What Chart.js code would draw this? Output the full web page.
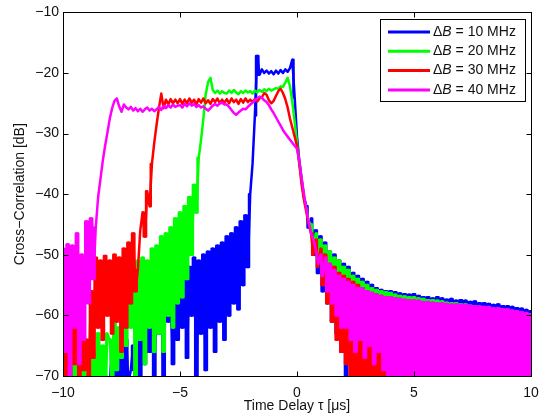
<!DOCTYPE html>
<html>
<head>
<meta charset="utf-8">
<title>Cross-correlation vs time delay</title>
<script src="https://cdn.jsdelivr.net/npm/chart.js@4.4.1/dist/chart.umd.min.js"></script>
<style>
  html, body { margin: 0; padding: 0; background: #fff; }
  canvas { display: block; }
</style>
</head>
<body>
<canvas id="xcorr" width="549" height="418"></canvas>
<script>
// samples run from -10 us to +10 us, one every 0.1 us
const tauStart = -10;
const tauStep = 0.1;

const bandwidths = [10, 20, 30, 40];   // MHz
const colors = ['#0000ff', '#00ff00', '#ff0000', '#ff00ff'];

const xTicks = [-10, -5, 0, 5, 10];
const yTicks = [-70, -60, -50, -40, -30, -20, -10];

// cross-correlation in dB, one row per microsecond
const corr10 = [
    -73, -70, -75, -71, -74, -72, -76, -70, -74, -72,
    -72, -75, -70, -74, -71, -75, -69, -73, -70, -74,
    -71, -66, -73, -69, -74, -67, -72, -64, -71, -69,
    -65, -71, -62, -70, -59, -68, -56, -66, -55, -70,
    -54, -63, -56, -70, -54, -61, -57, -68, -53, -64,
    -53, -62, -51, -67, -52, -60, -50.5, -70, -51, -63,
    -50, -69, -49.5, -62, -49, -66, -48.5, -61, -48, -64,
    -47, -60, -46.5, -58, -45.5, -59, -44.5, -55, -43.5, -52,
    -40, -35, -27, -17.2, -20.3, -19.4, -20, -19.6, -20.1, -19.7,
    -20.2, -19.6, -20.1, -19.5, -20, -19.4, -19.8, -19.2, -17.8, -24,
    -30.5, -34.5, -37.5, -40.5, -42, -45.5, -44, -50, -46, -53,
    -47, -56, -48, -58, -49.5, -61, -50, -63, -51, -66,
    -51.5, -70, -52, -68, -53, -71, -53.5, -70, -54, -73,
    -54.5, -72, -55, -70, -55.5, -74, -55.8, -71, -56, -75,
    -56, -74, -56.2, -76, -56.4, -74, -56.5, -76, -56.6, -75,
    -56.5, -76, -56.8, -75, -57, -76, -57, -75, -57.2, -76,
    -57, -75, -57.2, -76, -57.4, -75, -57.3, -76, -57.6, -75,
    -57.5, -76, -57.6, -75, -57.8, -76, -57.7, -75, -58, -76,
    -58, -75, -58.1, -76, -58.3, -75, -58.2, -76, -58.5, -75,
    -58.5, -76, -58.6, -75, -58.8, -76, -58.9, -75, -59.1, -76, -59.3
];

const corr20 = [
    -72, -68, -74, -66, -71, -64, -73, -69, -75, -67,
    -72, -70, -74, -66, -71, -63, -70, -65, -73, -63,
    -64, -71, -61, -69, -62, -67, -58, -65, -52, -62,
    -51.5, -70, -51, -64, -50.5, -68, -51, -62, -49, -66,
    -48.5, -63, -47, -66, -46.5, -60, -45.5, -62, -44, -58,
    -43, -57, -42, -54, -40.5, -50, -38.5, -43, -34, -31,
    -27.5, -23.5, -21.5, -20.8, -22.8, -23.3, -22.9, -23.4, -23, -23.3,
    -23.4, -22.9, -23.3, -22.8, -23.2, -23.5, -23, -23.3, -22.9, -23.2,
    -23, -23.4, -22.9, -23.2, -22.8, -23.1, -22.7, -23, -22.6, -22.9,
    -22.7, -22.5, -22.6, -22.2, -22.3, -21.6, -20.8, -22.2, -24.8, -28,
    -31.5, -35, -38, -40.5, -42.5, -44.5, -45, -49, -46.5, -51,
    -47.5, -54, -48.5, -56, -49.5, -59, -50.5, -61, -51, -63,
    -52, -65, -52.5, -68, -53.5, -66, -54, -70, -54.5, -72,
    -55, -71, -55.5, -73, -55.8, -70, -56, -74, -56.2, -72,
    -56.3, -75, -56.6, -74, -56.8, -76, -56.9, -74, -57, -76,
    -57, -75, -57.2, -76, -57.3, -75, -57.5, -76, -57.5, -75,
    -57.6, -76, -57.7, -75, -57.9, -76, -58, -75, -58, -76,
    -58.2, -75, -58.2, -76, -58.4, -75, -58.5, -76, -58.6, -75,
    -58.7, -76, -58.8, -75, -59, -76, -59, -75, -59.2, -76,
    -59.3, -75, -59.4, -76, -59.5, -75, -59.6, -76, -59.8, -75, -60
];

const corr30 = [
    -62, -70, -66, -72, -60, -68, -57, -71, -63, -69,
    -64, -70, -56, -67, -50.5, -62, -51, -64, -50.2, -60,
    -51, -63, -50, -61, -50.5, -66, -49, -62, -48, -58,
    -46.5, -56, -52.5, -46, -43, -47, -39.5, -42, -35, -31.5,
    -28.5, -25.8, -23.4, -25.8, -24.4, -25.2, -24.3, -25, -24.4, -25,
    -24.3, -25.1, -24.4, -25, -24.2, -24.9, -24.4, -25.2, -24.3, -24.9,
    -24.2, -25, -24.5, -25.1, -24.3, -24.8, -24.2, -25, -24.4, -24.9,
    -24.3, -25, -24.2, -24.8, -24.4, -25.1, -24.3, -24.9, -24.2, -24.8,
    -24.4, -24.8, -24.3, -24.7, -24.2, -24, -23.3, -23.6, -24.5, -25,
    -24.6, -23.8, -23, -22.6, -23.3, -24.3, -25.7, -27.5, -29, -30.5,
    -32, -35, -38.5, -41, -43, -45, -46.5, -50, -47.5, -52,
    -49, -55, -50, -58, -51.5, -61, -52, -64, -53, -66,
    -53.5, -68, -54, -70, -54.5, -72, -55, -70, -55.5, -73,
    -56, -72, -56.3, -74, -56.6, -75, -56.8, -76, -57, -75,
    -57, -76, -57.2, -75, -57.3, -76, -57.5, -75, -57.6, -76,
    -57.6, -75, -57.8, -76, -58, -75, -58, -76, -58.2, -75,
    -58.2, -76, -58.4, -75, -58.5, -76, -58.6, -75, -58.8, -76,
    -58.8, -75, -59, -76, -59, -75, -59.2, -76, -59.3, -75,
    -59.4, -76, -59.8, -75, -60.4, -76, -60.2, -75, -59.8, -76,
    -59.6, -75, -59.8, -76, -59.9, -75, -60, -76, -60.2, -75, -60.4
];

const corr40 = [
    -49, -66, -48.3, -70, -48.5, -62, -46.5, -68, -50, -64,
    -44.5, -58, -44, -54, -45.5, -40.5, -37.5, -34.5, -32, -29.8,
    -27.5, -25.8, -24.6, -24.2, -25.5, -26.4, -25.2, -25.7, -26, -25.6,
    -26.2, -25.8, -26.3, -25.9, -26.4, -26, -25.7, -26.2, -25.9, -26.3,
    -26, -25.6, -26.1, -25.4, -25.8, -25.3, -25.7, -25.2, -25.6, -25.4,
    -25.3, -25.7, -25.1, -25.5, -25, -25.4, -25.1, -25.6, -25.3, -25.7,
    -25.5, -25.9, -26.2, -25.8, -25.4, -25.1, -25.4, -25, -24.9, -25.2,
    -25.2, -25.6, -26.1, -26.6, -26.9, -26.5, -26.2, -25.9, -26, -25.6,
    -25.2, -24.9, -24.5, -24.2, -23.9, -24.1, -24.5, -24.8, -25.3, -26,
    -26.6, -27.3, -28, -28.7, -29.4, -30, -30.5, -31, -31.5, -32,
    -32.5, -34.5, -37.5, -40, -42.5, -44.5, -46.5, -47.5, -49, -51.5,
    -50, -53.5, -50.5, -56, -51.5, -58, -52.5, -60, -53.5, -62,
    -54, -62, -54.5, -64, -55, -66, -55.5, -64, -55.5, -67,
    -56, -65, -56.3, -68, -56.6, -66, -56.8, -69, -57, -76,
    -57, -76, -57.2, -75, -57.3, -76, -57.4, -75, -57.5, -76,
    -57.5, -75, -57.6, -76, -57.8, -75, -57.8, -76, -57.9, -75,
    -58, -76, -58, -75, -58.1, -76, -58.2, -75, -58.2, -76,
    -58.3, -75, -58.3, -76, -58.4, -75, -58.5, -76, -58.5, -75,
    -58.6, -76, -58.6, -75, -58.8, -76, -58.8, -75, -59, -76,
    -59, -75, -59.2, -76, -59.3, -75, -59.5, -76, -59.6, -75, -59.8
];

const series = [corr10, corr20, corr30, corr40];

const FONT = '"Liberation Sans", Arial, Helvetica, sans-serif';
const INK = '#111';
const CLEAR = 'rgba(0,0,0,0)';

let toPoints = (vals) => vals.map((v, i) => ({ x: +(tauStart + i * tauStep).toFixed(1), y: v }));

let minus = (v) => String(v).replace('-', '\u2212');

// a segment belongs to the noise floor when the curve flips direction
// around it with a jump of more than a few dB
let isNoisy = (vals, i) => {
    const d0 = vals[i] - vals[i - 1];
    const d1 = vals[i + 1] - vals[i];
    const d2 = vals[i + 2] - vals[i + 1];
    return Math.abs(d1) > 3 && (d0 * d1 < 0 || d1 * d2 < 0);
};

// box round the plot with inward ticks on all four sides
const frame = {
    id: 'frame',
    afterDatasetsDraw(chart) {
        const {ctx, chartArea: a, scales: {x, y}} = chart;
        const L = Math.round(a.left) + 0.5, R = Math.round(a.right) + 0.5;
        const T = Math.round(a.top) + 0.5, B = Math.round(a.bottom) + 0.5;
        const len = 5;
        ctx.save();
        ctx.strokeStyle = '#000';
        ctx.lineWidth = 1;
        ctx.strokeRect(L, T, R - L, B - T);
        ctx.beginPath();
        xTicks.forEach((t) => {
            const px = Math.round(x.getPixelForValue(t)) + 0.5;
            ctx.moveTo(px, B); ctx.lineTo(px, B - len);
            ctx.moveTo(px, T); ctx.lineTo(px, T + len);
        });
        yTicks.forEach((t) => {
            const py = Math.round(y.getPixelForValue(t)) + 0.5;
            ctx.moveTo(L, py); ctx.lineTo(L + len, py);
            ctx.moveTo(R, py); ctx.lineTo(R - len, py);
        });
        ctx.stroke();
        ctx.restore();
    }
};

// legend box in the upper right corner, "ΔB" with an italic B
const legendBox = {
    id: 'legendBox',
    afterDraw(chart) {
        const {ctx, chartArea: a} = chart;
        const w = 145, h = 82;
        const x0 = Math.round(a.right - 6 - w), y0 = Math.round(a.top + 7);
        ctx.save();
        ctx.fillStyle = '#fff';
        ctx.fillRect(x0, y0, w, h);
        ctx.strokeStyle = '#000';
        ctx.lineWidth = 1;
        ctx.strokeRect(x0 + 0.5, y0 + 0.5, w, h);
        ctx.textBaseline = 'middle';
        bandwidths.forEach((bw, i) => {
            const yy = y0 + 13 + i * 19.3;
            ctx.strokeStyle = colors[i];
            ctx.lineWidth = 3;
            ctx.beginPath();
            ctx.moveTo(x0 + 8, yy);
            ctx.lineTo(x0 + 50, yy);
            ctx.stroke();

            let tx = x0 + 53;
            ctx.fillStyle = INK;
            ctx.font = '14px ' + FONT;
            ctx.fillText('\u0394', tx, yy);
            tx += ctx.measureText('\u0394').width;
            ctx.font = 'italic 14px ' + FONT;
            ctx.fillText('B', tx, yy);
            tx += ctx.measureText('B').width;
            ctx.font = '14px ' + FONT;
            ctx.fillText(' = ' + bw + ' MHz', tx, yy);
        });
        ctx.restore();
    }
};

// each bandwidth: a plain line, plus a stepped copy that only shows
// where the signal is noise so those stretches fill in solid
let datasets = [];
series.forEach((vals, i) => {
    const common = {
        label: '\u0394B = ' + bandwidths[i] + ' MHz',
        data: toPoints(vals),
        borderColor: colors[i],
        backgroundColor: colors[i],
        borderWidth: 2.5,
        borderJoinStyle: 'round',
        pointRadius: 0,
        fill: false,
        clip: 0,
        order: series.length - 1 - i   // wider bandwidth drawn on top
    };
    datasets.push(Object.assign({}, common, { tension: 0 }));
    datasets.push(Object.assign({}, common, {
        stepped: 'middle',
        segment: {
            borderColor: (c) => isNoisy(vals, c.p0DataIndex) ? colors[i] : CLEAR
        }
    }));
});

let ctx = document.getElementById('xcorr').getContext('2d');
let chart = new Chart(ctx, {
    type: 'line',
    data: { datasets: datasets },
    options: {
        responsive: false,
        animation: false,
        events: [],
        layout: { padding: { top: 8, right: 18, left: 0, bottom: 0 } },
        plugins: {
            legend: { display: false },
            tooltip: { enabled: false }
        },
        scales: {
            x: {
                type: 'linear',
                min: -10,
                max: 10,
                afterBuildTicks: (scale) => { scale.ticks = xTicks.map((v) => ({ value: v })); },
                afterFit: (scale) => { scale.height = 42; },
                grid: { display: false, drawTicks: false },
                border: { display: false },
                ticks: {
                    padding: 9,
                    color: INK,
                    font: { family: FONT, size: 14 },
                    maxRotation: 0,
                    callback: (v) => minus(v)
                },
                title: {
                    display: true,
                    text: 'Time Delay \u03c4 [\u03bcs]',
                    color: INK,
                    font: { family: FONT, size: 14 },
                    padding: { top: 0, bottom: 3 }
                }
            },
            y: {
                type: 'linear',
                min: -70,
                max: -10,
                afterBuildTicks: (scale) => { scale.ticks = yTicks.map((v) => ({ value: v })); },
                afterFit: (scale) => { scale.width = 63; },
                grid: { display: false, drawTicks: false },
                border: { display: false },
                ticks: {
                    padding: 4,
                    color: INK,
                    font: { family: FONT, size: 14 },
                    callback: (v) => minus(v)
                },
                title: {
                    display: true,
                    text: 'Cross\u2212Correlation [dB]',
                    color: INK,
                    font: { family: FONT, size: 14 },
                    padding: { top: 12, bottom: 0 }
                }
            }
        }
    },
    plugins: [frame, legendBox]
});
</script>
</body>
</html>
